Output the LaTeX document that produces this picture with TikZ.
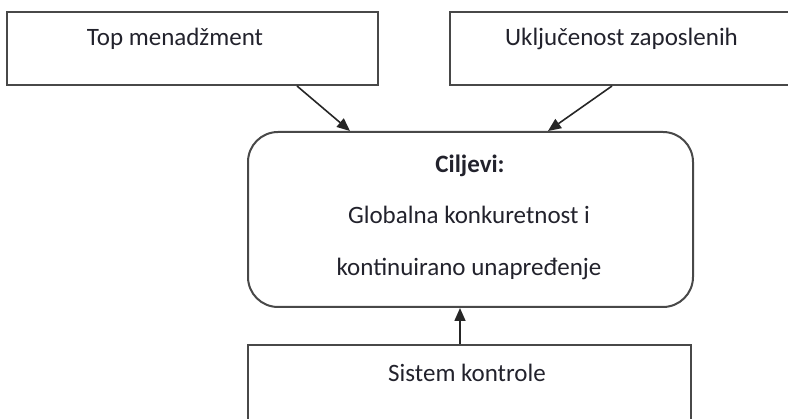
\documentclass[tikz,border=0pt]{standalone}
\usepackage{fontspec}
\setmainfont{Carlito}
\usetikzlibrary{arrows.meta,positioning}
\definecolor{boxline}{RGB}{72,72,72}
\definecolor{txt}{RGB}{34,34,44}
\begin{document}
\begin{tikzpicture}[x=1pt,y=-1pt,
  box/.style={draw=boxline,line width=2pt,inner sep=0pt},
  lbl/.style={anchor=base,text=txt,inner sep=0pt,font=\fontsize{25}{30}\selectfont},
  link/.style={draw=black!85,line width=1.6pt,-{Triangle[length=13pt,width=11pt]}}]
\clip (0,0) rectangle (788,419);
\node[box,minimum width=371pt,minimum height=73pt] (top) at (192.5,48.5) {};
\node[box,minimum width=380pt,minimum height=73pt] (staff) at (640,48.5) {};
\node[box,rounded corners=30pt,minimum width=445pt,minimum height=175pt] (goals) at (470.5,219.5) {};
\node[box,minimum width=443pt,minimum height=95pt] (ctrl) at (469.5,392.5) {};
\node[lbl] (toptxt) at (175,46) {Top menadžment};
\node[lbl] (stafftxt) at (621.5,46) {Uključenost zaposlenih};
\node[lbl,font=\fontsize{25}{30}\selectfont\bfseries] (goalhd) at (470,173) {Ciljevi:};
\node[lbl] (goalone) at (469,224) {Globalna konkuretnost i};
\node[lbl] (goaltwo) at (469,276) {kontinuirano unapređenje};
\node[lbl] (ctrltxt) at (467,382) {Sistem kontrole};
\draw[link] ([xshift=104.5pt]top.south) -- ([xshift=-120.5pt]goals.north);
\draw[link] ([xshift=-28pt]staff.south) -- ([xshift=77.5pt]goals.north);
\draw[link] ([xshift=-9.5pt]ctrl.north) -- ([xshift=-10.5pt]goals.south);
\end{tikzpicture}
\end{document}
